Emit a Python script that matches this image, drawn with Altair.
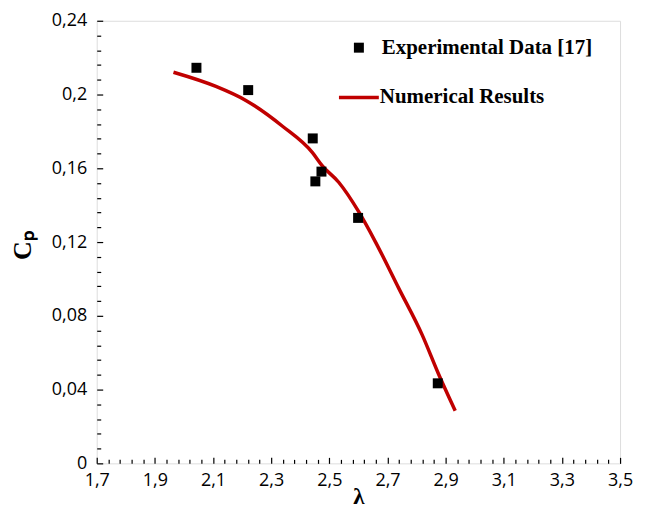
import altair as alt
import pandas as pd

# Experimental data [17]
lam_exp = [2.043, 2.221, 2.443, 2.452, 2.473, 2.599, 2.873]
cp_exp = [0.2145, 0.2024, 0.1762, 0.1529, 0.1582, 0.1331, 0.0434]

# Numerical results
lam_num = [1.964, 2.110, 2.213, 2.339, 2.442, 2.476, 2.533, 2.602, 2.659, 2.739, 2.819, 2.876, 2.933]
cp_num = [0.2121, 0.2044, 0.1968, 0.1828, 0.1685, 0.1613, 0.1523, 0.1362, 0.1200, 0.0949, 0.0698, 0.0483, 0.0285]

x_major = [1.7, 1.9, 2.1, 2.3, 2.5, 2.7, 2.9, 3.1, 3.3, 3.5]
x_minor = [1.74, 1.78, 1.82, 1.86, 1.94, 1.98, 2.02, 2.06, 2.14, 2.18, 2.22, 2.26,
           2.34, 2.38, 2.42, 2.46, 2.54, 2.58, 2.62, 2.66, 2.74, 2.78, 2.82, 2.86,
           2.94, 2.98, 3.02, 3.06, 3.14, 3.18, 3.22, 3.26, 3.34, 3.38, 3.42, 3.46]
y_major = [0, 0.04, 0.08, 0.12, 0.16, 0.2, 0.24]
y_minor = [0.008, 0.016, 0.024, 0.032, 0.048, 0.056, 0.064, 0.072, 0.088, 0.096, 0.104, 0.112,
           0.128, 0.136, 0.144, 0.152, 0.168, 0.176, 0.184, 0.192, 0.208, 0.216, 0.224, 0.232]

legend_labels = ["Experimental Data [17]", "Numerical Results"]

df_exp = pd.DataFrame({"lam": lam_exp, "cp": cp_exp})
df_num = pd.DataFrame({"lam": lam_num, "cp": cp_num})

RED = "#c00000"
LABEL_FONT = "Open Sans"
SERIF = "Liberation Serif"

xs = alt.Scale(domain=[1.7, 3.5], nice=False, zero=False)
ys = alt.Scale(domain=[0, 0.24], nice=False, zero=False)

main_x_axis = alt.Axis(values=x_major, ticks=False, domain=False, grid=False,
                       format="~g", labelExpr="replace(datum.label, '.', ',')",
                       labelFont=LABEL_FONT, labelFontSize=18, labelColor="black",
                       labelPadding=8, labelFlush=False,
                       title="λ", titleFont=SERIF, titleFontSize=23, titleFontWeight="bold",
                       titleColor="black", titleY=33, titleBaseline="middle", orient="bottom")
main_y_axis = alt.Axis(values=y_major, ticks=False, domain=False, grid=False,
                       format="~g", labelExpr="replace(datum.label, '.', ',')",
                       labelFont=LABEL_FONT, labelFontSize=18, labelColor="black",
                       labelPadding=10, labelFlush=False,
                       title="Cₚ", titleFont=SERIF, titleFontSize=26, titleFontWeight="bold",
                       titleColor="black", titleX=-74, titleY=225, titleAngle=-90,
                       titleBaseline="middle", orient="left")

line = alt.Chart(df_num).mark_line(color=RED, strokeWidth=3.5, interpolate="monotone").encode(
    x=alt.X("lam:Q", scale=xs, axis=main_x_axis),
    y=alt.Y("cp:Q", scale=ys, axis=main_y_axis),
)

points = alt.Chart(df_exp).mark_point(shape="square", filled=True, color="black", size=100, opacity=1).encode(
    x=alt.X("lam:Q", scale=xs, axis=alt.Axis(values=x_major, labels=False, domain=False, grid=False,
                                             tickSize=6, tickWidth=1.2, tickColor="black",
                                             offset=-6, title=None, orient="bottom")),
    y=alt.Y("cp:Q", scale=ys, axis=alt.Axis(values=y_major, labels=False, domain=False, grid=False,
                                            tickSize=6, tickWidth=1.2, tickColor="black",
                                            offset=-6, title=None, orient="left")),
)

minor = alt.Chart(df_exp).mark_point(opacity=0).encode(
    x=alt.X("lam:Q", scale=xs, axis=alt.Axis(values=x_minor, labels=False, domain=False, grid=False,
                                             tickSize=4, tickWidth=1.2, tickColor="black",
                                             offset=-4, title=None, orient="bottom")),
    y=alt.Y("cp:Q", scale=ys, axis=alt.Axis(values=y_minor, labels=False, domain=False, grid=False,
                                            tickSize=4, tickWidth=1.2, tickColor="black",
                                            offset=-4, title=None, orient="left")),
)

leg_df = pd.DataFrame({"label": legend_labels})
leg_sq = alt.Chart(leg_df).transform_filter(alt.datum.label == legend_labels[0]).mark_point(
    shape="square", filled=True, color="black", size=100, opacity=1).encode(
    x=alt.value(263), y=alt.value(27))
leg_t1 = alt.Chart(leg_df).transform_filter(alt.datum.label == legend_labels[0]).mark_text(
    font=SERIF, fontSize=21, fontWeight="bold", align="left", baseline="middle", color="black").encode(
    x=alt.value(286), y=alt.value(27), text="label:N")
leg_ln = alt.Chart(leg_df).transform_filter(alt.datum.label == legend_labels[1]).mark_rule(
    color=RED, strokeWidth=3.5).encode(
    x=alt.value(243), x2=alt.value(283), y=alt.value(77))
leg_t2 = alt.Chart(leg_df).transform_filter(alt.datum.label == legend_labels[1]).mark_text(
    font=SERIF, fontSize=21, fontWeight="bold", align="left", baseline="middle", color="black").encode(
    x=alt.value(284), y=alt.value(77), text="label:N")

chart = alt.layer(line, points, minor, leg_sq, leg_t1, leg_ln, leg_t2).resolve_axis(
    x="independent", y="independent"
).properties(
    width=525, height=444,
    padding={"left": 89, "top": 12, "right": 20, "bottom": 48},
    autosize=alt.AutoSizeParams(type="none"),
).configure_view(stroke="black", strokeWidth=1.5).configure(background="white")

chart.save("out.html", embed_options={"renderer": "svg", "actions": False})
